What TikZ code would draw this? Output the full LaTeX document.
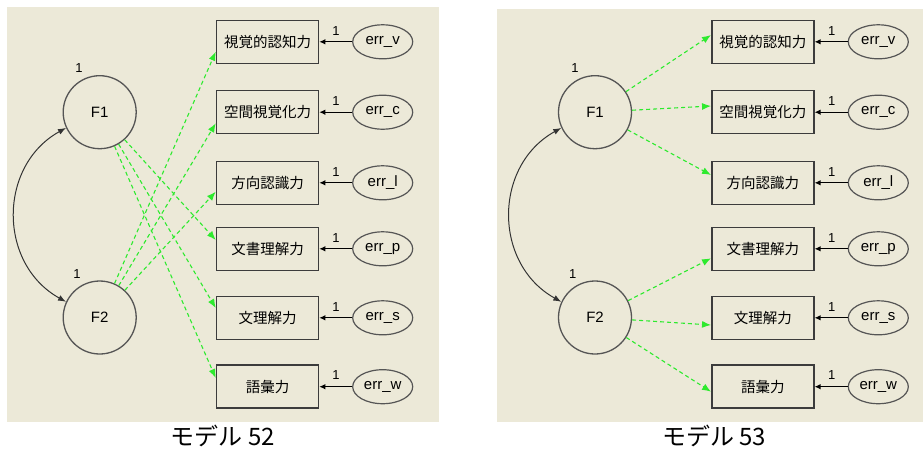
\documentclass[tikz,border=0pt]{standalone}
\usepackage{fontspec}
\setmainfont{Liberation Sans}
\newfontfamily\jpfont{Noto Sans CJK JP}
\usetikzlibrary{arrows.meta,shapes.geometric}
\definecolor{cpanel}{HTML}{ECE9D8}
\definecolor{cload}{HTML}{2EEA2E}
\definecolor{cline}{HTML}{3C3C3C}
\definecolor{cring}{HTML}{555555}
\tikzset{
  obs/.style={draw=cline, line width=1.5pt, minimum width=102pt, minimum height=43pt, inner sep=0pt, font=\jpfont\fontsize{14.5}{14.5}\selectfont},
  lat/.style={circle, draw=cring, line width=1.3pt, minimum size=73pt, inner sep=0pt, font=\fontsize{15}{15}\selectfont},
  errn/.style={ellipse, draw=cring, line width=1.2pt, minimum width=60pt, minimum height=34pt, inner sep=0pt, font=\fontsize{15}{15}\selectfont},
  unit/.style={inner sep=0pt, font=\fontsize{13}{13}\selectfont},
  load/.style={-{Latex[length=9pt,width=7pt]}, draw=cload, line width=1.1pt, dash pattern=on 4pt off 3pt},
  eps/.style={-{Latex[length=6pt,width=5.5pt]}, draw=black, line width=1.2pt},
  cov/.style={{Latex[length=8pt,width=6pt]}-{Latex[length=8pt,width=6pt]}, draw=black!80, line width=1pt},
  capt/.style={inner sep=0pt, font=\jpfont\fontsize{24}{24}\selectfont},
}
\begin{document}
\begin{tikzpicture}[x=1pt, y=-1pt]
\useasboundingbox (0,0) rectangle (923,451);
\fill[cpanel] (7,7) rectangle (439,422);
\fill[cpanel] (497,9) rectangle (923,422);
% model 52
\node[lat] (LF1) at (99.7,112.2) {F1};
\node[lat] (LF2) at (99.7,317.5) {F2};
\node[unit] (LuF1) at (79,67.7) {1};
\node[unit] (LuF2) at (77,274) {1};
\node[obs] (Lv) at (267.5,41.8) {視覚的認知力};
\node[obs] (Lc) at (267.5,112.2) {空間視覚化力};
\node[obs] (Ll) at (267.5,182.8) {方向認識力};
\node[obs] (Lp) at (267.5,248.8) {文書理解力};
\node[obs] (Ls) at (267.5,317.8) {文理解力};
\node[obs] (Lw) at (267.5,386.7) {語彙力};
\node[errn] (Lev) at (382.7,41.8) {err\_v};
\node[errn] (Lec) at (382.7,112.2) {err\_c};
\node[errn] (Lel) at (382.7,182.8) {err\_l};
\node[errn] (Lep) at (382.7,248.8) {err\_p};
\node[errn] (Les) at (382.7,317.8) {err\_s};
\node[errn] (Lew) at (382.7,386.7) {err\_w};
\node[unit] (Luv) at (336,30.7) {1};
\node[unit] (Luc) at (336,101) {1};
\node[unit] (Lul) at (336,171.6) {1};
\node[unit] (Lup) at (336,237.6) {1};
\node[unit] (Lus) at (336,306.6) {1};
\node[unit] (Luw) at (336,375.5) {1};
\draw[eps] (Lev) -- (Lv); \draw[eps] (Lec) -- (Lc); \draw[eps] (Lel) -- (Ll);
\draw[eps] (Lep) -- (Lp); \draw[eps] (Les) -- (Ls); \draw[eps] (Lew) -- (Lw);
\draw[load] (LF2) -- ([yshift=-9.9pt]Lv.west);
\draw[load] (LF2) -- ([yshift=-11.1pt]Lc.west);
\draw[load] (LF2) -- ([yshift=-8.9pt]Ll.west);
\draw[load] (LF1) -- ([yshift=8.8pt]Lp.west);
\draw[load] (LF1) -- ([yshift=9.8pt]Ls.west);
\draw[load] (LF1) -- ([yshift=8.7pt]Lw.west);
\draw[cov] (LF1.205) to[bend right=61, looseness=1.15] (LF2.155);
\node[capt] (Lcap) at (223,436) {モデル 52};
% model 53
\node[lat] (RF1) at (595,112.2) {F1};
\node[lat] (RF2) at (595,317.5) {F2};
\node[unit] (RuF1) at (575,67.7) {1};
\node[unit] (RuF2) at (572.7,274) {1};
\node[obs] (Rv) at (762.8,41.8) {視覚的認知力};
\node[obs] (Rc) at (762.8,112.2) {空間視覚化力};
\node[obs] (Rl) at (762.8,182.8) {方向認識力};
\node[obs] (Rp) at (762.8,248.8) {文書理解力};
\node[obs] (Rs) at (762.8,317.8) {文理解力};
\node[obs] (Rw) at (762.8,386.7) {語彙力};
\node[errn] (Rev) at (878.3,41.8) {err\_v};
\node[errn] (Rec) at (878.3,112.2) {err\_c};
\node[errn] (Rel) at (878.3,182.8) {err\_l};
\node[errn] (Rep) at (878.3,248.8) {err\_p};
\node[errn] (Res) at (878.3,317.8) {err\_s};
\node[errn] (Rew) at (878.3,386.7) {err\_w};
\node[unit] (Ruv) at (831.7,30.7) {1};
\node[unit] (Ruc) at (831.7,101) {1};
\node[unit] (Rul) at (831.7,171.6) {1};
\node[unit] (Rup) at (831.7,237.6) {1};
\node[unit] (Rus) at (831.7,306.6) {1};
\node[unit] (Ruw) at (831.7,375.5) {1};
\draw[eps] (Rev) -- (Rv); \draw[eps] (Rec) -- (Rc); \draw[eps] (Rel) -- (Rl);
\draw[eps] (Rep) -- (Rp); \draw[eps] (Res) -- (Rs); \draw[eps] (Rew) -- (Rw);
\draw[load] (RF1) -- ([yshift=6.8pt]Rv.west);
\draw[load] (RF1) -- ([yshift=6.2pt]Rc.west);
\draw[load] (RF1) -- ([yshift=7.8pt]Rl.west);
\draw[load] (RF2) -- ([yshift=-9.5pt]Rp.west);
\draw[load] (RF2) -- ([yshift=-7.2pt]Rs.west);
\draw[load] (RF2) -- ([yshift=-5pt]Rw.west);
\draw[cov] (RF1.205) to[bend right=61, looseness=1.15] (RF2.155);
\node[capt] (Rcap) at (714,436) {モデル 53};
\end{tikzpicture}
\end{document}
